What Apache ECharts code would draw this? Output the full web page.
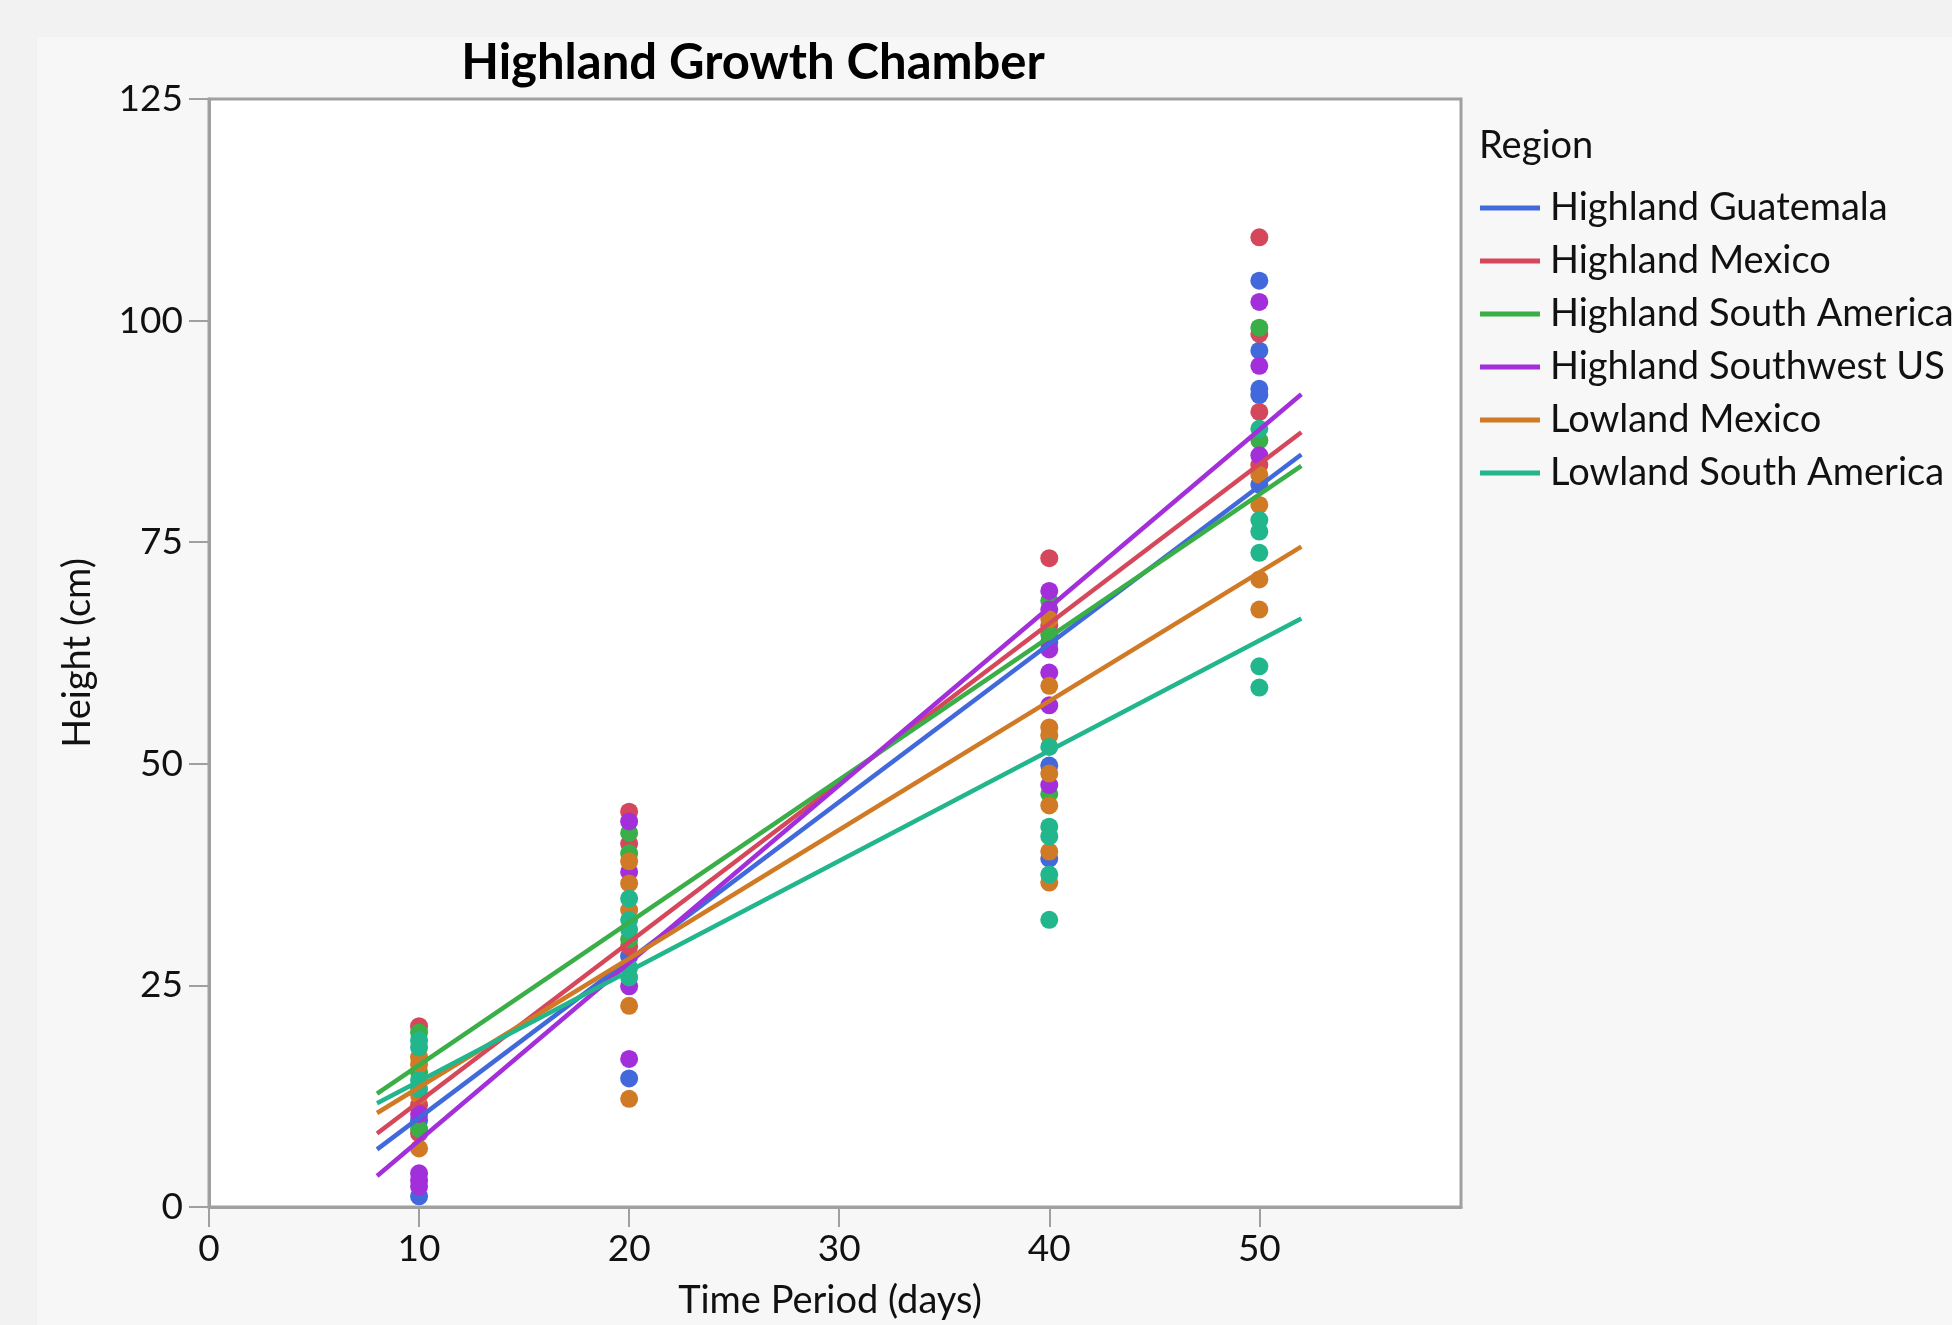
<!DOCTYPE html>
<html>
<head>
<meta charset="utf-8">
<script src="https://cdn.jsdelivr.net/npm/echarts@6/dist/echarts.min.js"></script>
<style>
html,body{margin:0;padding:0;background:#f2f2f2;overflow:hidden;width:1952px;height:1325px;}
#chart{width:1952px;height:1325px;display:block;}
</style>
</head>
<body>
<div id="chart"></div>
<script>
// ---- data ----
const regions = ['Highland Guatemala','Highland Mexico','Highland South America','Highland Southwest US','Lowland Mexico','Lowland South America'];
const colors = ['#4169dc','#d5475a','#3aae47','#a22fd9','#d07a26','#22b68c'];

// [day, height] observations per region
const highlandGuatemala = [[10,9.8],[10,1.2],[20,28.3],[20,14.5],[40,63.7],[40,49.8],[40,39.3],[50,104.5],[50,96.6],[50,92.3],[50,91.6],[50,81.5]];
const highlandMexico = [[10,20.4],[10,11.5],[10,8.3],[20,44.6],[20,41.0],[20,29.4],[40,73.2],[40,65.6],[50,109.4],[50,98.5],[50,89.7],[50,83.7]];
const highlandSouthAmerica = [[10,19.7],[10,15.2],[10,8.8],[20,42.2],[20,39.9],[20,30.2],[40,68.4],[40,64.6],[40,46.6],[50,99.2],[50,86.5]];
const highlandSouthwestUS = [[10,10.5],[10,3.8],[10,3.0],[10,2.3],[20,43.5],[20,37.8],[20,24.9],[20,16.7],[40,69.5],[40,67.4],[40,62.9],[40,60.3],[40,56.6],[40,47.6],[50,102.1],[50,94.9],[50,84.8]];
const lowlandMexico = [[10,16.9],[10,16.1],[10,12.6],[10,6.6],[20,39.0],[20,36.5],[20,33.5],[20,22.7],[20,12.2],[40,66.3],[40,58.8],[40,54.1],[40,53.2],[40,48.9],[40,45.3],[40,40.1],[40,36.6],[50,82.6],[50,79.2],[50,70.8],[50,67.4]];
const lowlandSouthAmerica = [[10,18.8],[10,18.0],[10,14.3],[10,13.3],[20,34.8],[20,32.4],[20,31.3],[20,27.0],[20,25.9],[40,51.9],[40,42.9],[40,41.8],[40,37.5],[40,32.4],[50,87.8],[50,77.5],[50,76.2],[50,73.8],[50,61.0],[50,58.6]];

// fitted lines: x range and height at both ends
const fitDays = [8, 52];
const fitStart = [6.5, 8.3, 12.8, 3.5, 10.6, 11.7];
const fitEnd = [84.9, 87.4, 83.6, 91.7, 74.5, 66.4];

// axis ticks
const xTicks = [0, 10, 20, 30, 40, 50];
const yTicks = [0, 25, 50, 75, 100, 125];

const points = [highlandGuatemala, highlandMexico, highlandSouthAmerica, highlandSouthwestUS, lowlandMexico, lowlandSouthAmerica];

const FONT = 'Lato';
const chart = echarts.init(document.getElementById('chart'), null, {renderer:'canvas'});

const series = [];
regions.forEach((name, i) => {
  series.push({
    name: name, type: 'scatter', data: points[i], symbol: 'circle', symbolSize: 18,
    itemStyle: {color: colors[i], opacity: 1}, z: 2, silent: true
  });
});
regions.forEach((name, i) => {
  series.push({
    name: name, type: 'line', data: [[fitDays[0], fitStart[i]], [fitDays[1], fitEnd[i]]],
    showSymbol: false, symbol: 'none', lineStyle: {color: colors[i], width: 4.5}, itemStyle: {color: colors[i]}, z: 3, silent: true
  });
});

chart.setOption({
  backgroundColor: '#f2f2f2',
  animation: false,
  graphic: [
    {type: 'rect', left: 37, top: 37, shape: {width: 1915, height: 1288}, style: {fill: '#f7f7f7'}, z: -10},
    {type: 'text', x: 753, y: 63, style: {text: 'Highland Growth Chamber', font: 'bold 49px ' + FONT, fill: '#000', textAlign: 'center', textVerticalAlign: 'middle'}},
    {type: 'text', left: 1479, top: 127, style: {text: 'Region', font: '38px ' + FONT, fill: '#111'}}
  ],
  legend: {
    orient: 'vertical', left: 1475, top: 181, itemWidth: 60, itemHeight: 5, itemGap: 9, icon: 'rect',
    data: regions,
    textStyle: {fontFamily: FONT, fontSize: 38, lineHeight: 44, color: '#111', padding: [0,0,0,5]}
  },
  grid: {left: 209, top: 99, width: 1252, height: 1113, show: true, backgroundColor: '#ffffff', borderColor: '#a0a0a0', borderWidth: 3, containLabel: false},
  xAxis: {
    type: 'value', min: 0, max: 59.6, interval: 10,
    name: 'Time Period (days)', nameLocation: 'middle', nameGap: 75,
    nameTextStyle: {fontFamily: FONT, fontSize: 38, color: '#111', padding: [0, 10, 0, 0]},
    axisLine: {show: true, lineStyle: {color: '#a0a0a0', width: 3}},
    axisTick: {show: true, length: 20, customValues: xTicks, lineStyle: {color: '#a0a0a0', width: 2}},
    axisLabel: {customValues: xTicks, fontFamily: FONT, fontSize: 37, color: '#111', margin: 24},
    splitLine: {show: false}
  },
  yAxis: {
    type: 'value', min: 0, max: 125, interval: 25,
    name: 'Height (cm)', nameLocation: 'middle', nameGap: 112, nameRotate: 90,
    nameTextStyle: {fontFamily: FONT, fontSize: 38, color: '#111'},
    axisLine: {show: true, lineStyle: {color: '#a0a0a0', width: 3}},
    axisTick: {show: true, length: 20, customValues: yTicks, lineStyle: {color: '#a0a0a0', width: 2}},
    axisLabel: {customValues: yTicks, fontFamily: FONT, fontSize: 37, color: '#111', margin: 26},
    splitLine: {show: false}
  },
  series: series
});
</script>
</body>
</html>
